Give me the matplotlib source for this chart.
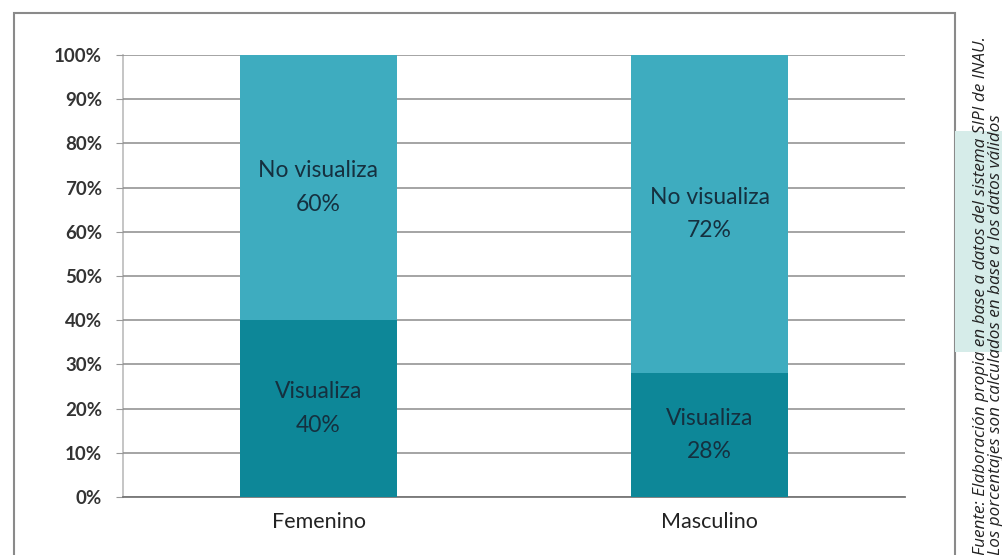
import matplotlib
matplotlib.use("Agg")
import matplotlib.pyplot as plt
from matplotlib.patches import Rectangle

categories = ["Femenino", "Masculino"]
visualiza = [40, 28]
no_visualiza = [60, 72]
yticks = [0, 10, 20, 30, 40, 50, 60, 70, 80, 90, 100]
source_line1 = "Fuente: Elaboración propia en base a datos del sistema SIPI de INAU."
source_line2 = "Los porcentajes son calculados en base a los datos válidos"

plt.rcParams['font.family'] = ['Lato', 'DejaVu Sans']

fig = plt.figure(figsize=(10.02, 5.55), dpi=100)
fig.patch.set_facecolor("white")
ax = fig.add_axes([123/1002, 1-497/555, (905-123)/1002, (497-55)/555])

c_bottom = "#0d8798"
c_top = "#3eacbf"
txt_col = "#15303f"
x = list(range(len(categories)))
ax.bar(x, visualiza, width=0.40, color=c_bottom, zorder=3)
ax.bar(x, no_visualiza, width=0.40, bottom=visualiza, color=c_top, zorder=3)

for i in x:
    ax.text(i, visualiza[i]/2, f"Visualiza\n{visualiza[i]}%", ha="center", va="center",
            fontsize=16.5, color=txt_col, linespacing=1.75, zorder=4)
    ax.text(i, visualiza[i] + no_visualiza[i]/2, f"No visualiza\n{no_visualiza[i]}%",
            ha="center", va="center", fontsize=16.5, color=txt_col, linespacing=1.75, zorder=4)

ax.set_xlim(-0.5, 1.5)
ax.set_ylim(0, 100)
ax.set_yticks(yticks)
ax.set_yticklabels([f"{t}%" for t in yticks], fontsize=13.5, fontweight="bold", color="#333333")
ax.set_xticks(x)
ax.set_xticklabels(categories, fontsize=15.5, color="#222222")
ax.tick_params(axis="x", length=0, pad=11)
ax.tick_params(axis="y", length=5, color="#999999", pad=10)
ax.grid(axis="y", color="#8c8c8c", linewidth=1.1, zorder=0)
for s in ["top", "right"]:
    ax.spines[s].set_visible(False)
ax.spines["left"].set_color("#bbbbbb")
ax.spines["left"].set_linewidth(1.2)
ax.spines["bottom"].set_color("#777777")
ax.spines["bottom"].set_linewidth(1.3)
ax.spines["left"].set_zorder(1)

# outer frame
fig.patches.append(Rectangle((14/1002, -0.05), (955-14)/1002, 1.05-13/555,
                             transform=fig.transFigure, fill=False,
                             edgecolor="#8a8a8a", linewidth=1.5))
# light teal box
fig.patches.append(Rectangle((955/1002, 1-352/555), 47/1002, (352-131)/555,
                             transform=fig.transFigure, facecolor="#d6ece9",
                             edgecolor="none"))

fig.text(981/1002, 0, source_line1, rotation=90, ha="center", va="bottom",
         fontsize=12.3, style="italic", color="#222222", family=["Open Sans", "DejaVu Sans"])
fig.text(996/1002, 0, source_line2, rotation=90, ha="center", va="bottom",
         fontsize=12.3, style="italic", color="#222222", family=["Open Sans", "DejaVu Sans"])

fig.savefig("out.png", dpi=100)
